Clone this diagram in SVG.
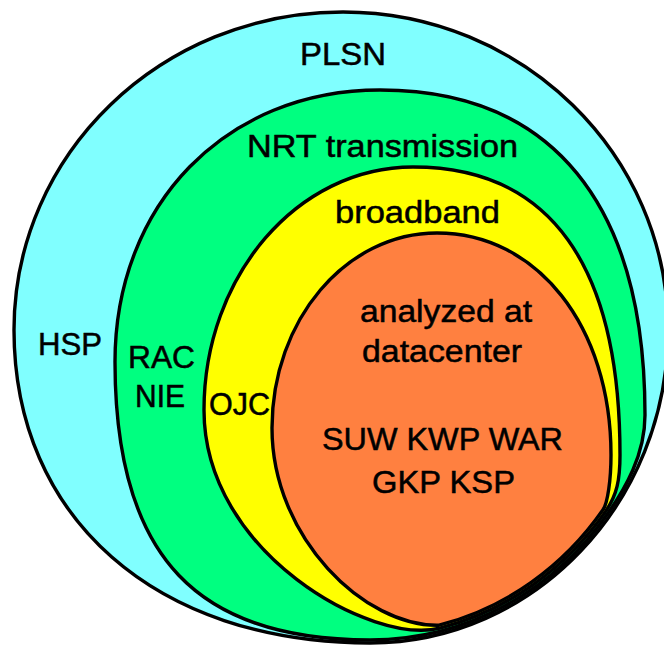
<svg xmlns="http://www.w3.org/2000/svg" xmlns:xlink="http://www.w3.org/1999/xlink" width="664" height="645" viewBox="0 0 664 645">
<style>
.shape{stroke:#000;stroke-width:3.4;stroke-linejoin:round}
.outline{fill:none;stroke:#000;stroke-width:3.4}
.lbl{font-family:"Liberation Sans",Arial,sans-serif;font-size:31px;fill:#000;stroke:#000;stroke-width:0.5}
</style>
<defs>
<path id="outerPath" d="M343,12 C161,12 14,154 14,330 C14,518 156,643 370,643 C534,643 668,503 668,330 C668,154 522,12 343,12 Z"/>
<clipPath id="inOuter"><use xlink:href="#outerPath"/></clipPath>
</defs>
<rect width="664" height="645" fill="#fff"/>
<g id="plsn">
<use xlink:href="#outerPath" fill="#80FFFF"/>
<text class="lbl" x="300" y="65" textLength="86" lengthAdjust="spacingAndGlyphs">PLSN</text>
<text class="lbl" x="38" y="355" textLength="64" lengthAdjust="spacingAndGlyphs">HSP</text>
</g>
<g clip-path="url(#inOuter)">
<g id="nrt-transmission">
<path class="shape" fill="#00FF80" d="M380,90 C226,90 115,204 115,362 C115,560 200,640 370,640 C467.6,640.1 554.3,590.3 608,513.3 C625,489 645,455 645,415 C645,204 552,90 380,90 Z"/>
<text class="lbl" x="247" y="157" textLength="271" lengthAdjust="spacingAndGlyphs">NRT transmission</text>
<text class="lbl" x="128" y="368" textLength="67" lengthAdjust="spacingAndGlyphs">RAC</text>
<text class="lbl" x="135" y="407" textLength="50" lengthAdjust="spacingAndGlyphs">NIE</text>
</g>
<g id="broadband">
<path class="shape" fill="#FFFF00" d="M413,167 C297.6,167 204,275.9 204,410 C204,553.7 372.6,645.4 439.9,628.1 C507.2,610.8 565.6,568.8 605.5,511.6 C617,495 620,480 620,455 C620,265 550,167 413,167 Z"/>
<text class="lbl" x="335" y="223" textLength="165" lengthAdjust="spacingAndGlyphs">broadband</text>
<text class="lbl" x="209" y="415" textLength="61" lengthAdjust="spacingAndGlyphs">OJC</text>
</g>
<g id="analyzed-at-datacenter">
<path class="shape" fill="#FF8040" d="M437,233 C346,233 272,320 272,428 C272,538 365,627 439.1,625.2 C505.8,608.2 563.6,566.6 603,509.8 C607.6,503.2 611,480 611,455 C611,326 537,233 437,233 Z"/>
<text class="lbl" x="360" y="322" textLength="172" lengthAdjust="spacingAndGlyphs">analyzed at</text>
<text class="lbl" x="362" y="362" textLength="160" lengthAdjust="spacingAndGlyphs">datacenter</text>
<text class="lbl" x="322" y="450" textLength="241" lengthAdjust="spacingAndGlyphs">SUW KWP WAR</text>
<text class="lbl" x="372" y="493" textLength="143" lengthAdjust="spacingAndGlyphs">GKP KSP</text>
</g>
</g>
<g id="plsn-outline">
<use xlink:href="#outerPath" class="outline"/>
</g>
</svg>
